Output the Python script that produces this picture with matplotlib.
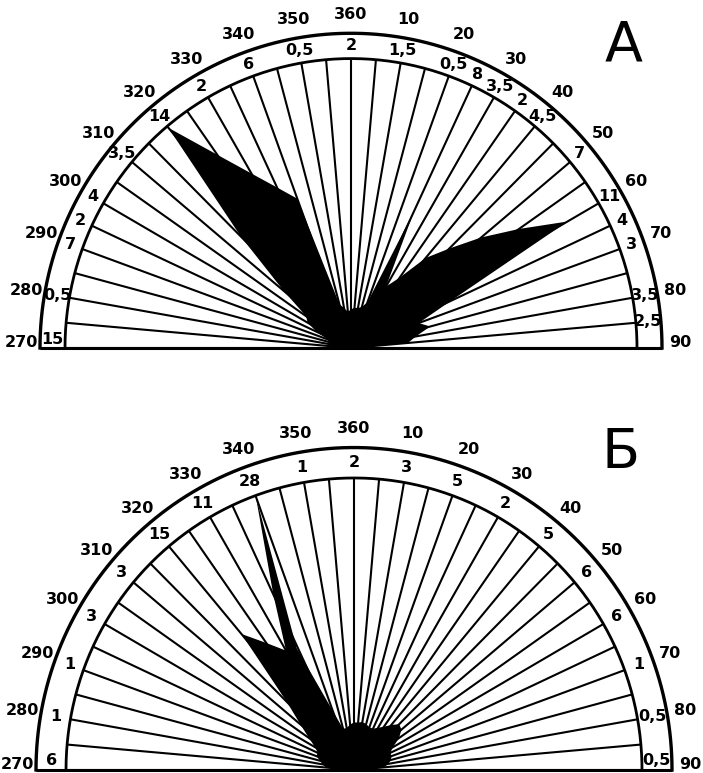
import numpy as np
import matplotlib
matplotlib.use("Agg")
import matplotlib.pyplot as plt

# ---------------- data ----------------
# directions measured clockwise from north (negative = west of north)
ray_dirs = list(range(-90, 91, 5))
outer_tick_dirs = list(range(-90, 91, 10))
outer_tick_labels = ["270", "280", "290", "300", "310", "320", "330", "340", "350",
                     "360", "10", "20", "30", "40", "50", "60", "70", "80", "90"]

# Panel A: numbers written in the ring
a_label_dirs = [-90, -80, -70, -65, -60, -50, -40, -30, -20, -10, 0, 10, 20,
                25, 30, 35, 40, 50, 60, 65, 70, 80, 85]
a_label_vals = ["15", "0,5", "7", "2", "4", "3,5", "14", "2", "6", "0,5", "2",
                "1,5", "0,5", "8", "3,5", "2", "4,5", "7", "11", "4", "3", "3,5", "2,5"]
# Panel A: black rose outline (length in % of the inner circle radius)
a_rose_dirs = list(range(-90, 91, 5))
a_rose_len = [0, 7, 7.7, 7.7, 8.7, 13.3, 17.5, 19.2, 30.8, 54.5, 99.3, 81.5, 69.6,
              61.2, 54.9, 15.7, 14, 12.6, 13.3, 14, 14, 14.7, 16.8, 52.4, 24.5,
              29.7, 40.6, 48.6, 59.4, 71.7, 87.4, 38.5, 25.2, 28.7, 23, 20, 0]

# Panel Б: numbers written in the ring
b_label_dirs = list(range(-90, 91, 10))
b_label_vals = ["6", "1", "1", "3", "3", "15", "11", "28", "1", "2", "3", "5",
                "2", "5", "6", "6", "1", "0,5", "0,5"]
# Panel Б: black rose outline
b_rose_dirs = [-90, -85, -80, -75, -70, -65, -60, -55, -50, -45, -40, -35, -30,
               -25, -20, -25.5, -15, -10, -5, 0, 5, 10, 15, 20, 25, 30, 35, 40,
               45, 50, 55, 60, 65, 70, 75, 80, 85, 90]
b_rose_len = [0, 9.7, 11.1, 12.2, 13.9, 13.9, 15.6, 19.1, 24.3, 33, 60.8, 53.1,
              47.2, 66.3, 99.7, 46.2, 14.6, 14.6, 15.6, 16.3, 16.3, 16.7, 16.3,
              15.6, 15.6, 16.7, 18.1, 20.1, 22.2, 21.5, 19.1, 15.6, 13.9, 13.9,
              13.2, 12.2, 10.4, 0]

# ---------------- drawing ----------------
W, H = 703, 773
fig = plt.figure(figsize=(W / 100, H / 100), dpi=100)
plt.rcParams['font.family'] = ['DejaVu Sans']


def xy(deg, r):
    t = np.deg2rad(np.asarray(deg, dtype=float))
    return np.asarray(r) * np.sin(t), np.asarray(r) * np.cos(t)


def panel(rect, xlim, ylim, sy, r_in, r_out, label_dirs, label_vals,
          rose_dirs, rose_len, letter, letter_xy):
    ax = fig.add_axes(rect)
    ax.set_xlim(*xlim)
    ax.set_ylim(ylim[0] / sy, ylim[1] / sy)
    ax.axis("off")

    # rose polygon
    px, py = xy(rose_dirs, np.asarray(rose_len) / 100.0 * r_in)
    ax.fill(px, py, color="black", lw=0, zorder=2)

    # rays
    for d in ray_dirs:
        ex, ey = xy(d, r_in)
        ax.plot([0, ex], [0, ey], color="black", lw=1.5,
                solid_capstyle="butt", zorder=3)

    # arcs
    th = np.linspace(-90, 90, 400)
    ax.plot(*xy(th, r_in), color="black", lw=2.0, zorder=4)
    ax.plot(*xy(th, r_out), color="black", lw=2.4, zorder=4)
    ax.plot([-r_out, r_out], [0, 0], color="black", lw=2.2,
            solid_capstyle="butt", zorder=4)

    # outer direction labels
    for d, s in zip(outer_tick_dirs, outer_tick_labels):
        dd = float(np.clip(d, -89, 89))
        tx, ty = xy(dd, r_out + 18.5)
        ax.text(tx, ty, s, ha="center", va="center", fontsize=11.5,
                fontweight="bold", zorder=5)

    # ring values
    r_mid = (r_in + r_out) / 2
    for d, s in zip(label_dirs, label_vals):
        dd = float(np.clip(d, -88.3, 88.3))
        tx, ty = xy(dd, r_mid)
        ax.text(tx, ty, s, ha="center", va="center", fontsize=11.5,
                fontweight="bold", zorder=5)

    ax.text(letter_xy[0], letter_xy[1], letter, ha="center", va="center",
            fontsize=40, zorder=5)
    return ax


# Panel A: occupies pixel rows 0..386, centre at (351, 348)
panel([0, (H - 386) / H, 1, 386 / H], (-351, 352), (-38, 348), 1.012,
      286, 311, a_label_dirs, a_label_vals, a_rose_dirs, a_rose_len,
      "А", (273, 299))

# Panel Б: occupies pixel rows 386..773, centre at (354, 770)
panel([0, 0, 1, 386 / H], (-354, 349), (-3, 383), 1.014,
      288, 318, b_label_dirs, b_label_vals, b_rose_dirs, b_rose_len,
      "Б", (267, 313))

fig.savefig("out.png", dpi=100)
